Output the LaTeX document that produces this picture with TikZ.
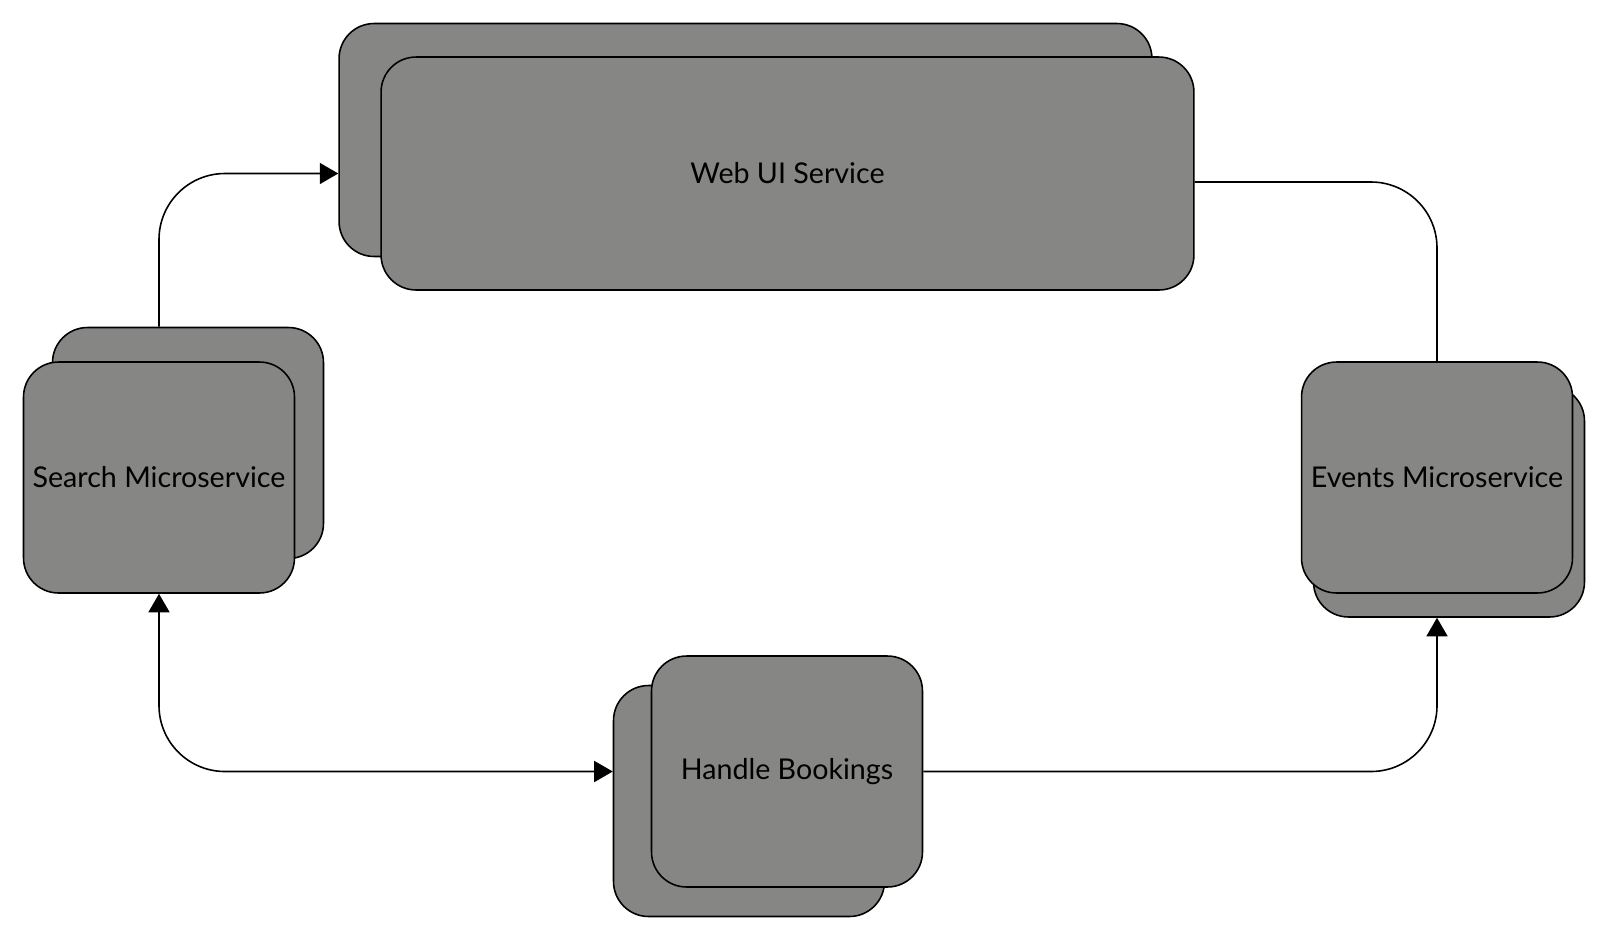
\documentclass[tikz,border=0pt]{standalone}
\usepackage{fontspec}
\setmainfont{Lato}
\usetikzlibrary{arrows.meta,calc}
\definecolor{boxgray}{RGB}{134,135,133}
\begin{document}
\begin{tikzpicture}[x=0.02cm,y=-0.02cm,
  box/.style={draw, fill=boxgray, rounded corners=0.7cm, line width=0.9pt, inner sep=0pt,
    font=\fontsize{16.3}{19}\selectfont},
  wide/.style={minimum width=16.26cm, minimum height=4.66cm},
  small/.style={minimum width=5.42cm, minimum height=4.62cm},
  tip/.tip={Triangle[length=0.37cm,width=0.42cm]},
  link/.style={line width=0.9pt, rounded corners=1.32cm, -tip}]
\useasboundingbox (0,0) rectangle (1609,941);

% services, each with a second copy behind it
\node[box,wide] (webb) at (745.5,140) {};
\node[box,wide] (web) at (787.5,173.5) {Web UI Service};
\node[box,small] (searchb) at (188,443) {};
\node[box,small] (search) at (159,477.5) {Search Microservice};
\node[box,small] (eventsb) at (1449,501.5) {};
\node[box,small] (events) at (1437,477.5) {Events Microservice};
\node[box,small] (bookb) at (749,801) {};
\node[box,small] (book) at (787,771.5) {Handle Bookings};

% links
\draw[link] (search.north |- searchb.north) |- (webb.west |- web);
\draw[link,-] ($(web.east)+(0,8.5)$) -| (events.north);
\draw[link] (book.east) -| (events |- eventsb.south);
\draw[link,tip-tip] (search.south) |- (bookb.west |- book);
\end{tikzpicture}
\end{document}
